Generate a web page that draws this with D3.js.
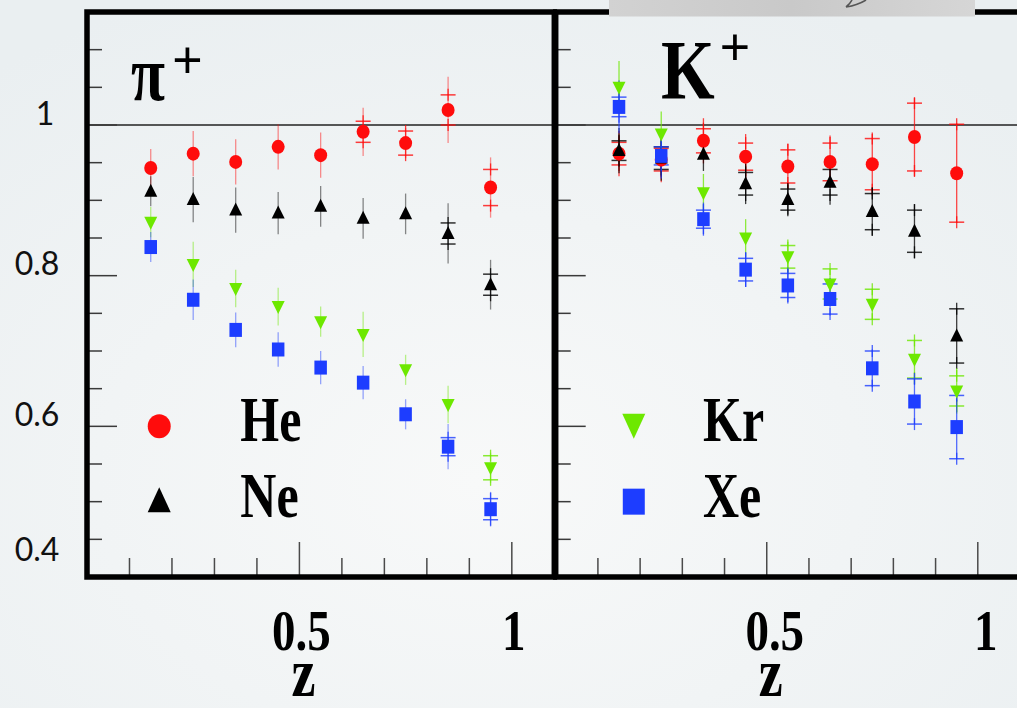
<!DOCTYPE html>
<html><head><meta charset="utf-8">
<script src="https://cdn.jsdelivr.net/npm/d3@7"></script>
<style>html,body{margin:0;padding:0;background:#eef2f3;} svg{display:block}</style>
</head><body><svg id="c" width="1017" height="708"></svg>
<script>
// ---------- data ----------
const zValues = [0.15, 0.25, 0.35, 0.45, 0.55, 0.65, 0.75, 0.85, 0.95];
const targets = ["He", "Ne", "Kr", "Xe"];

// pi+ panel
const piHe     = [0.943, 0.962, 0.951, 0.971, 0.960, 0.991, 0.976, 1.020, 0.917];
const piHeStat = [0.025, 0.030, 0.030, 0.030, 0.030, 0.032, 0.020, 0.044, 0.040];
const piHeSys  = [0, 0, 0, 0, 0, 0.014, 0.016, 0.020, 0.024];
const piNe     = [0.912, 0.901, 0.887, 0.883, 0.892, 0.876, 0.882, 0.856, 0.788];
const piNeStat = [0.020, 0.030, 0.030, 0.028, 0.027, 0.027, 0.027, 0.040, 0.033];
const piNeSys  = [0, 0, 0, 0, 0, 0, 0, 0.014, 0.014];
const piKr     = [0.871, 0.815, 0.783, 0.759, 0.739, 0.722, 0.675, 0.629, 0.545];
const piKrStat = [0.020, 0.030, 0.025, 0.025, 0.020, 0.030, 0.020, 0.025, 0.020];
const piKrSys  = [0, 0, 0, 0, 0, 0, 0, 0, 0.016];
const piXe     = [0.838, 0.768, 0.728, 0.702, 0.678, 0.658, 0.616, 0.573, 0.490];
const piXeStat = [0.020, 0.027, 0.023, 0.023, 0.022, 0.022, 0.020, 0.030, 0.023];
const piXeSys  = [0, 0, 0, 0, 0, 0, 0, 0.012, 0.014];

// K+ panel
const kHe     = [0.962, 0.954, 0.979, 0.958, 0.945, 0.951, 0.948, 0.984, 0.936];
const kHeStat = [0.030, 0.030, 0.030, 0.030, 0.030, 0.035, 0.040, 0.052, 0.066];
const kHeSys  = [0.015, 0.015, 0.016, 0.018, 0.022, 0.025, 0.034, 0.045, 0.065];
const kNe     = [0.966, 0.956, 0.961, 0.922, 0.901, 0.924, 0.885, 0.859, 0.720];
const kNeStat = [0.030, 0.030, 0.022, 0.027, 0.020, 0.030, 0.032, 0.036, 0.036];
const kNeSys  = [0.013, 0.015, 0, 0.015, 0.014, 0.017, 0.024, 0.028, 0.036];
const kKr     = [1.050, 0.988, 0.910, 0.850, 0.825, 0.789, 0.762, 0.689, 0.647];
const kKrStat = [0.035, 0.030, 0.025, 0.025, 0.020, 0.020, 0.020, 0.025, 0.030];
const kKrSys  = [0, 0, 0, 0, 0.015, 0.020, 0.020, 0.025, 0.020];
const kXe     = [1.024, 0.959, 0.875, 0.808, 0.787, 0.769, 0.677, 0.633, 0.599];
const kXeStat = [0.035, 0.030, 0.022, 0.023, 0.022, 0.022, 0.025, 0.030, 0.042];
const kXeSys  = [0.013, 0.012, 0.012, 0.015, 0.016, 0.020, 0.023, 0.030, 0.042];

const yTickLabelValues = [1, 0.8, 0.6, 0.4];
const yTickLabels = ["1", "0.8", "0.6", "0.4"];
const xTickLabelValues = [0.5, 1];
const xTickLabels = ["0.5", "1"];
const xAxisTitle = "z";
const panelTitles = ["π", "K"];

// ---------- setup ----------
const W = 1017, H = 708;
const svg = d3.select("#c");
const defs = svg.append("defs");
const rg = defs.append("radialGradient").attr("id", "bg").attr("cx", "0.47").attr("cy", "0.68").attr("r", "0.75");
rg.append("stop").attr("offset", "0").attr("stop-color", "#f8f9f9");
rg.append("stop").attr("offset", "1").attr("stop-color", "#eaeff1");
svg.append("rect").attr("width", W).attr("height", H).attr("fill", "url(#bg)");

const yS = d3.scaleLinear().domain([0.4, 1.15]).range([577, 12]);
const xL = d3.scaleLinear().domain([0, 1.1]).range([87, 554.3]);
const xR = d3.scaleLinear().domain([0, 1.1]).range([555.7, 1020]);

const colors = { He: "#ff0c0c", Ne: "#000000", Kr: "#6de800", Xe: "#1d3dff" };
const shapes = { He: "circle", Ne: "triUp", Kr: "triDown", Xe: "square" };
const msize = { circle: [13, 14], triUp: [13, 13], triDown: [13, 13], square: [12.5, 14] };

const panels = [
  { xs: xL, title: panelTitles[0], legend: ["He", "Ne"], series: {
      He: [piHe, piHeStat, piHeSys], Ne: [piNe, piNeStat, piNeSys],
      Kr: [piKr, piKrStat, piKrSys], Xe: [piXe, piXeStat, piXeSys] }, statOp: 0.45, labelDx: 2, zDx: 4 },
  { xs: xR, title: panelTitles[1], legend: ["Kr", "Xe"], series: {
      He: [kHe, kHeStat, kHeSys], Ne: [kNe, kNeStat, kNeSys],
      Kr: [kKr, kKrStat, kKrSys], Xe: [kXe, kXeStat, kXeSys] }, statOp: 0.75, labelDx: 8, zDx: 4 }
];

function markerPath(shape, w, h) {
  if (shape === "triUp") return `M0,${-h * 0.58}L${w / 2},${h * 0.42}L${-w / 2},${h * 0.42}Z`;
  if (shape === "triDown") return `M0,${h * 0.58}L${w / 2},${-h * 0.42}L${-w / 2},${-h * 0.42}Z`;
  return `M${-w / 2},${-h / 2}h${w}v${h}h${-w}Z`;
}
function drawMarker(g, shape, x, y, w, h, color) {
  if (shape === "circle")
    g.append("ellipse").attr("cx", x).attr("cy", y).attr("rx", w / 2).attr("ry", h / 2).attr("fill", color);
  else
    g.append("path").attr("d", markerPath(shape, w, h)).attr("transform", `translate(${x},${y})`).attr("fill", color);
}

// reference line at 1
svg.append("line").attr("x1", xL(0)).attr("x2", W).attr("y1", yS(1)).attr("y2", yS(1))
  .attr("stroke", "#222").attr("stroke-width", 1.4);

const yTickVals = d3.range(9, 23).map(i => +(i * 0.05).toFixed(2));
const xTickVals = d3.range(1, 11).map(i => i / 10);

panels.forEach((p, pi) => {
  const g = svg.append("g");
  const xs = p.xs;
  // y ticks (inward from left edge)
  g.selectAll(".yt").data(yTickVals).join("line")
    .attr("x1", xs(0)).attr("x2", d => xs(0) + ([0.6, 0.8, 1].includes(d) ? 30 : 15))
    .attr("y1", d => yS(d)).attr("y2", d => yS(d))
    .attr("stroke", "#3a3a3a").attr("stroke-width", 1.5);
  // x ticks (inward from bottom)
  g.selectAll(".xt").data(xTickVals).join("line")
    .attr("x1", d => xs(d)).attr("x2", d => xs(d))
    .attr("y1", yS(0.4)).attr("y2", d => yS(0.4) - ((Math.round(d * 10) % 5 === 0) ? 35 : 19))
    .attr("stroke", "#4a4a4a").attr("stroke-width", 1.5);

  // error bars and markers
  targets.forEach(t => {
    const [vals, stat, sys] = p.series[t];
    const c = colors[t];
    vals.forEach((v, i) => {
      const x = xs(zValues[i]);
      g.append("line").attr("x1", x).attr("x2", x).attr("y1", yS(v - stat[i])).attr("y2", yS(v + stat[i]))
        .attr("stroke", c).attr("stroke-width", 1.3).attr("opacity", p.statOp);
      if (sys[i] > 0) {
        [v - sys[i], v + sys[i]].forEach(yy => {
          g.append("line").attr("x1", x - 7.5).attr("x2", x + 7.5).attr("y1", yS(yy)).attr("y2", yS(yy))
            .attr("stroke", c).attr("stroke-width", 1.5).attr("opacity", 0.8);
          g.append("line").attr("x1", x).attr("x2", x).attr("y1", yS(yy) - 6).attr("y2", yS(yy) + 6)
            .attr("stroke", c).attr("stroke-width", 1.3).attr("opacity", 0.8);
        });
      }
    });
  });
  targets.forEach(t => {
    const [vals] = p.series[t];
    const sh = shapes[t];
    vals.forEach((v, i) => drawMarker(g, sh, xs(zValues[i]), yS(v), msize[sh][0], msize[sh][1], colors[t]));
  });

  // legend
  p.legend.forEach((t, k) => {
    const lv = k === 0 ? 0.6 : 0.5;
    const lz = pi === 0 ? 0.17 : 0.185;
    const sh = shapes[t];
    const big = sh === "circle" ? [23, 24] : sh === "square" ? [22, 26] : [23, 25];
    drawMarker(g, sh, xs(lz), yS(lv) + (sh === "triDown" ? -2 : 0), big[0], big[1], colors[t]);
    g.append("text")
      .attr("transform", `translate(${xs(pi === 0 ? 0.361 : 0.349)},${yS(lv) + 15}) scale(1,1.27)`)
      .attr("font-family", "Liberation Serif, Times New Roman, serif").attr("font-weight", "bold")
      .attr("font-size", 50).attr("fill", "#000").text(t);
  });

  // x tick labels
  xTickLabelValues.forEach((v, k) => {
    g.append("text")
      .attr("transform", `translate(${xs(v) + p.labelDx},650) scale(1,1.22)`)
      .attr("text-anchor", "middle")
      .attr("font-family", "Liberation Serif, Times New Roman, serif").attr("font-weight", "bold")
      .attr("font-size", 47).attr("fill", "#000").text(xTickLabels[k]);
  });
  g.append("text")
    .attr("transform", `translate(${xs(0.5) + p.zDx},696) scale(1,1.3)`)
    .attr("text-anchor", "middle")
    .attr("font-family", "Liberation Serif, Times New Roman, serif").attr("font-weight", "bold")
    .attr("font-size", 54).attr("fill", "#000").text(xAxisTitle);

  // frame
  g.append("rect").attr("x", xs(0)).attr("y", yS(1.15)).attr("width", xs(1.1) - xs(0)).attr("height", yS(0.4) - yS(1.15))
    .attr("fill", "none").attr("stroke", "#000").attr("stroke-width", 5.5);
});

// panel titles
svg.append("text").attr("transform", "translate(131,100) scale(1,1.25)")
  .attr("font-family", "Liberation Serif, Times New Roman, serif").attr("font-weight", "bold")
  .attr("font-size", 62).attr("fill", "#000").text(panelTitles[0]);
svg.append("text").attr("x", 187.5).attr("y", 78).attr("text-anchor", "middle")
  .attr("font-family", "Liberation Sans, Arial, sans-serif").attr("font-size", 52).attr("fill", "#000").text("+");
svg.append("text").attr("transform", "translate(661,99) scale(1,1.23)")
  .attr("font-family", "Liberation Serif, Times New Roman, serif").attr("font-weight", "bold")
  .attr("font-size", 69).attr("fill", "#000").text(panelTitles[1]);
svg.append("text").attr("x", 735).attr("y", 65).attr("text-anchor", "middle")
  .attr("font-family", "Liberation Sans, Arial, sans-serif").attr("font-size", 52).attr("fill", "#000").text("+");

// y tick labels
yTickLabelValues.forEach((v, k) => {
  svg.append("text")
    .attr("x", v === 1 ? 45 : 37)
    .attr("y", yS(v) - (v === 0.4 ? 28 : 12))
    .attr("dy", "0.36em")
    .attr("text-anchor", "middle")
    .attr("font-family", "Lato, Open Sans, sans-serif").attr("font-size", 32).attr("fill", "#111")
    .text(yTickLabels[k]);
});

// gray overlay piece at top
const gg = defs.append("linearGradient").attr("id", "gr").attr("x1", 0).attr("x2", 1);
gg.append("stop").attr("offset", 0).attr("stop-color", "#d2d2d2");
gg.append("stop").attr("offset", 0.5).attr("stop-color", "#c9c9c9");
gg.append("stop").attr("offset", 1).attr("stop-color", "#d6d6d6");
svg.append("rect").attr("x", 609).attr("y", 0).attr("width", 366).attr("height", 16.5).attr("fill", "url(#gr)");
svg.append("path").attr("d", "M846,7 Q850,4 852,0 M846,7 Q858,5 866,0").attr("fill", "none")
  .attr("stroke", "#555").attr("stroke-width", 1.6);
</script>
</body></html>
